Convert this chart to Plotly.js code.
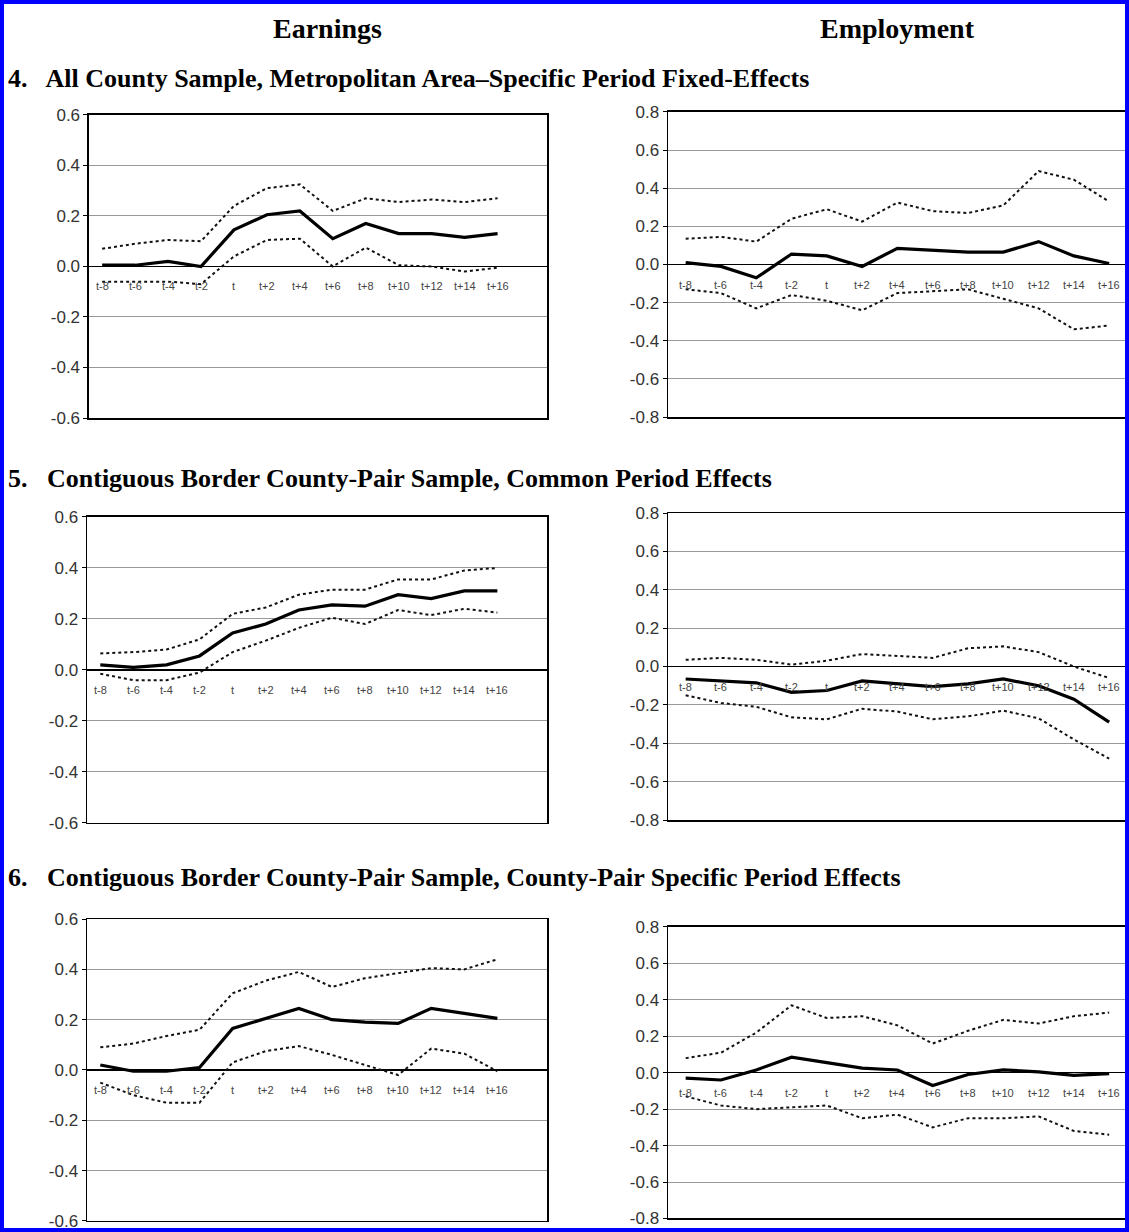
<!DOCTYPE html>
<html>
<head>
<script src="https://cdn.plot.ly/plotly-3.0.1.min.js"></script>
<style>body{margin:0;background:#fff}</style>
</head>
<body>
<div id="chart" style="width:1129px;height:1232px"></div>
<script>
var periods = ["t-8", "t-6", "t-4", "t-2", "t", "t+2", "t+4", "t+6", "t+8", "t+10", "t+12", "t+14", "t+16"];
var earnTicks = ["-0.6", "-0.4", "-0.2", "0.0", "0.2", "0.4", "0.6"];
var empTicks = ["-0.8", "-0.6", "-0.4", "-0.2", "0.0", "0.2", "0.4", "0.6", "0.8"];

var earn4 = [0.005, 0.005, 0.02, 0.0, 0.145, 0.205, 0.22, 0.11, 0.17, 0.13, 0.13, 0.115, 0.13];
var earn4Hi = [0.07, 0.09, 0.105, 0.10, 0.24, 0.31, 0.325, 0.22, 0.27, 0.255, 0.265, 0.255, 0.27];
var earn4Lo = [-0.06, -0.06, -0.06, -0.07, 0.04, 0.105, 0.11, 0.0, 0.075, 0.005, 0.0, -0.02, -0.005];
var emp4 = [0.01, -0.01, -0.07, 0.055, 0.045, -0.01, 0.085, 0.075, 0.065, 0.065, 0.12, 0.045, 0.005];
var emp4Hi = [0.135, 0.145, 0.12, 0.24, 0.29, 0.225, 0.325, 0.28, 0.27, 0.31, 0.49, 0.445, 0.33];
var emp4Lo = [-0.13, -0.15, -0.23, -0.16, -0.19, -0.24, -0.15, -0.14, -0.13, -0.18, -0.23, -0.34, -0.32];

var earn5 = [0.02, 0.01, 0.02, 0.055, 0.145, 0.18, 0.235, 0.255, 0.25, 0.295, 0.28, 0.31, 0.31];
var earn5Hi = [0.065, 0.07, 0.08, 0.12, 0.22, 0.245, 0.295, 0.315, 0.315, 0.355, 0.355, 0.39, 0.40];
var earn5Lo = [-0.015, -0.04, -0.04, -0.01, 0.07, 0.115, 0.165, 0.205, 0.18, 0.235, 0.215, 0.24, 0.225];
var emp5 = [-0.065, -0.075, -0.085, -0.135, -0.125, -0.075, -0.09, -0.105, -0.09, -0.065, -0.1, -0.17, -0.29];
var emp5Hi = [0.035, 0.045, 0.035, 0.01, 0.03, 0.065, 0.055, 0.045, 0.095, 0.105, 0.075, 0.0, -0.06];
var emp5Lo = [-0.15, -0.19, -0.21, -0.265, -0.275, -0.22, -0.235, -0.275, -0.26, -0.23, -0.27, -0.38, -0.48];

var earn6 = [0.02, -0.005, -0.005, 0.01, 0.165, 0.205, 0.245, 0.2, 0.19, 0.185, 0.245, 0.225, 0.205];
var earn6Hi = [0.09, 0.105, 0.135, 0.16, 0.305, 0.355, 0.39, 0.33, 0.365, 0.385, 0.405, 0.40, 0.44];
var earn6Lo = [-0.05, -0.1, -0.13, -0.13, 0.03, 0.075, 0.095, 0.06, 0.02, -0.02, 0.085, 0.065, -0.005];
var emp6 = [-0.03, -0.04, 0.015, 0.085, 0.055, 0.025, 0.015, -0.07, -0.01, 0.015, 0.005, -0.015, -0.005];
var emp6Hi = [0.08, 0.11, 0.22, 0.37, 0.30, 0.31, 0.26, 0.16, 0.23, 0.29, 0.27, 0.31, 0.33];
var emp6Lo = [-0.13, -0.18, -0.2, -0.19, -0.18, -0.25, -0.23, -0.3, -0.25, -0.25, -0.24, -0.32, -0.34];

var panels = [
    { est: earn4, hi: earn4Hi, lo: earn4Lo, x: [0.0788, 0.4845], y: [0.6607, 0.9067], ticks: earnTicks },
    { est: emp4, hi: emp4Hi, lo: emp4Lo, x: [0.5917, 0.9965], y: [0.6615, 0.9091], ticks: empTicks },
    { est: earn5, hi: earn5Hi, lo: earn5Lo, x: [0.0771, 0.4845], y: [0.332, 0.5804], ticks: earnTicks },
    { est: emp5, hi: emp5Hi, lo: emp5Lo, x: [0.5917, 0.9965], y: [0.3344, 0.5836], ticks: empTicks },
    { est: earn6, hi: earn6Hi, lo: earn6Lo, x: [0.0771, 0.4845], y: [0.009, 0.254], ticks: earnTicks },
    { est: emp6, hi: emp6Hi, lo: emp6Lo, x: [0.5917, 0.9965], y: [0.011, 0.2476], ticks: empTicks },
];

var traces = [];
var layout = {
    width: 1129,
    height: 1232,
    showlegend: false,
    paper_bgcolor: "#fff",
    plot_bgcolor: "#fff",
    margin: { l: 0, r: 0, t: 0, b: 0 },
    font: { family: "Liberation Sans, Arial", color: "#333" },
    annotations: [],
    shapes: [
        { type: "rect", xref: "paper", yref: "paper", x0: 0, x1: 1, y0: 0, y1: 1,
          line: { color: "#0000ff", width: 8 } },
    ],
};

panels.forEach(function (p, i) {
    var n = i + 1;
    var xa = "x" + (n === 1 ? "" : n), ya = "y" + (n === 1 ? "" : n);
    var left = i % 2 === 0;
    var idx = periods.map(function (_, k) { return k; });
    var vals = p.ticks.map(Number);
    var r = vals[vals.length - 1];
    [p.hi, p.lo].forEach(function (s) {
        traces.push({ x: idx, y: s, xaxis: xa, yaxis: ya, mode: "lines",
            line: { color: "#111", width: 2, dash: "dot" } });
    });
    traces.push({ x: idx, y: p.est, xaxis: xa, yaxis: ya, mode: "lines",
        line: { color: "#000", width: 3.2 } });

    layout["xaxis" + (n === 1 ? "" : n)] = {
        domain: p.x, anchor: ya,
        range: left ? [-0.4, 13.5] : [-0.5, 12.45],
        showticklabels: false, showgrid: false, zeroline: false,
        showline: true, mirror: true, linecolor: "#000", linewidth: 1.5,
    };
    layout["yaxis" + (n === 1 ? "" : n)] = {
        domain: p.y, anchor: xa,
        range: [-r, r], tickvals: vals, ticktext: p.ticks,
        showgrid: true, gridcolor: "#999", gridwidth: 1,
        zeroline: true, zerolinecolor: "#000", zerolinewidth: 1.5,
        showline: true, mirror: true, linecolor: "#000", linewidth: 1.5,
        ticks: "outside", ticklen: 4, tickcolor: "#000",
        tickfont: { size: 17, color: "#333" },
    };
    periods.forEach(function (lab, k) {
        layout.annotations.push({ x: k, y: 0, xref: xa, yref: ya, text: lab,
            showarrow: false, yshift: -20, font: { size: 11, color: "#444" } });
    });
});

function head(text, x, y, anchor, size) {
    layout.annotations.push({ text: "<b>" + text + "</b>", xref: "paper", yref: "paper",
        x: x / 1129, y: 1 - y / 1232, xanchor: anchor, yanchor: "middle", showarrow: false,
        font: { family: "Liberation Serif, Times New Roman", size: size, color: "#000" } });
}
head("Earnings", 327, 29, "center", 28);
head("Employment", 897, 29, "center", 28);
head("4.   All County Sample, Metropolitan Area\u2013Specific Period Fixed-Effects", 6, 78, "left", 26);
head("5.   Contiguous Border County-Pair Sample, Common Period Effects", 6, 478, "left", 26);
head("6.   Contiguous Border County-Pair Sample, County-Pair Specific Period Effects", 6, 877, "left", 26);

Plotly.newPlot("chart", traces, layout, { staticPlot: true });
</script>
</body>
</html>
